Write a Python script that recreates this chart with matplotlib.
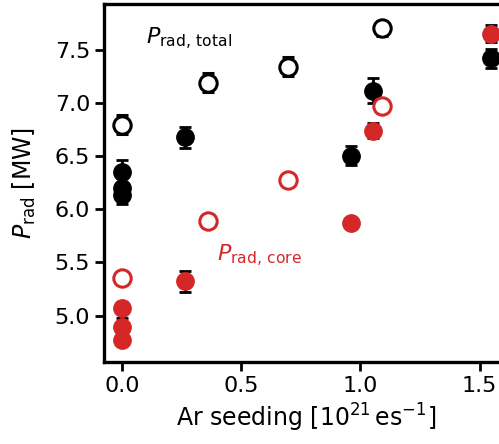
import matplotlib.pyplot as plt

# total radiated power, filled symbols
tot_x = [0.0, 0.0, 0.0, 0.266, 0.962, 1.053, 1.546]
tot_y = [6.35, 6.20, 6.135, 6.675, 6.505, 7.115, 7.42]
tot_err = [0.11, 0.09, 0.09, 0.10, 0.09, 0.12, 0.09]

# total radiated power, open symbols
tot2_x = [0.0, 0.359, 0.696, 1.09]
tot2_y = [6.795, 7.19, 7.34, 7.70]
tot2_err = [0.09, 0.09, 0.09, 0.07]

# core radiated power, filled symbols
core_x = [0.0, 0.0, 0.0, 0.266, 0.962, 1.053, 1.546]
core_y = [5.075, 4.89, 4.77, 5.32, 5.873, 6.74, 7.65]
core_err = [0.05, 0.09, 0.05, 0.10, 0.03, 0.07, 0.08]

# core radiated power, open symbols
core2_x = [0.0, 0.359, 0.697, 1.09]
core2_y = [5.35, 5.89, 6.27, 6.967]

red = '#d62728'

plt.rcParams['font.size'] = 16

fig = plt.figure(figsize=(4.99, 4.44), dpi=100)
ax = fig.add_axes([0.2084, 0.184, 0.81, 0.807])

eb = dict(fmt='o', ms=12.5, capsize=4.6, capthick=2, elinewidth=2, ecolor='k')
ax.errorbar(tot_x, tot_y, yerr=tot_err, color='k', zorder=3, **eb)
ax.errorbar(tot2_x, tot2_y, yerr=tot2_err, color='k', mfc='white', mew=2.2, zorder=3, **eb)
ax.errorbar(core_x, core_y, yerr=core_err, color=red, zorder=4, **eb)
ax.plot(core2_x, core2_y, 'o', ms=12.5, mfc='white', mec=red, mew=2.2, zorder=5)

ax.text(0.10, 7.6, r'$P_{\mathrm{rad,\,total}}$', color='k', va='center', fontsize=16)
ax.text(0.40, 5.56, r'$P_{\mathrm{rad,\,core}}$', color=red, va='center', fontsize=16)

# keep the data range; axes runs past the right edge of the figure
ax.set_xlim(-0.076, 1.62)
ax.set_ylim(4.56, 7.93)
ax.set_xticks([0.0, 0.5, 1.0, 1.5])
ax.set_yticks([5.0, 5.5, 6.0, 6.5, 7.0, 7.5])
ax.set_xlabel(r'Ar seeding [$10^{21}\,$es$^{-1}$]', fontsize=17)
ax.set_ylabel(r'$P_{\mathrm{rad}}$ [MW]', fontsize=17, labelpad=12)

for s in ax.spines.values():
    s.set_linewidth(2.4)
ax.tick_params(width=2, length=6.5)

fig.savefig('out.png', dpi=100)
